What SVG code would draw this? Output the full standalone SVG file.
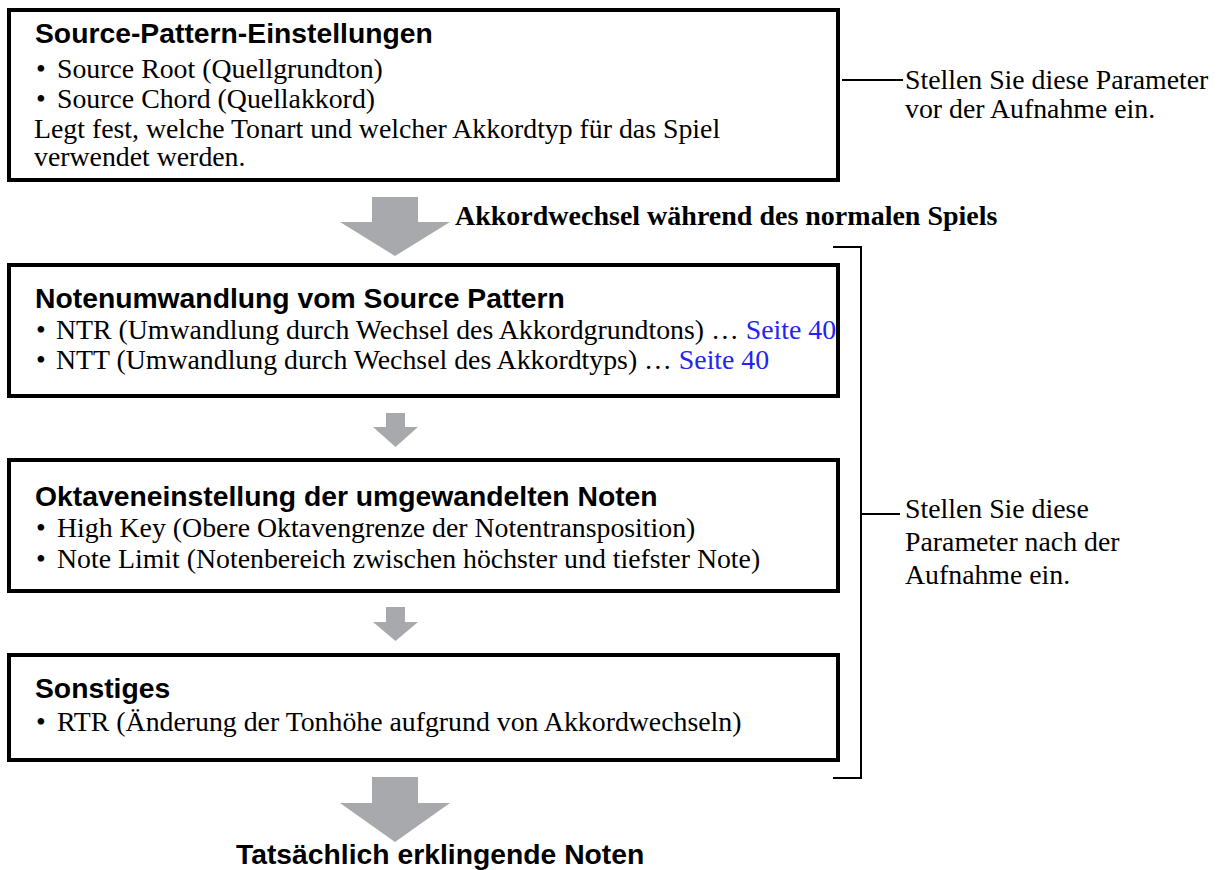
<svg xmlns="http://www.w3.org/2000/svg" width="1226" height="870" viewBox="0 0 1226 870">
  <style>
    .box { fill: #ffffff; stroke: #000000; stroke-width: 4; }
    .head { font-family: "Liberation Sans", Arial, sans-serif; font-weight: bold; font-size: 28.3px; fill: #000; }
    .body { font-family: "Liberation Serif", "Times New Roman", serif; font-size: 27.8px; fill: #000; }
    .bold { font-family: "Liberation Serif", "Times New Roman", serif; font-weight: bold; font-size: 28px; fill: #000; }
    .link { fill: #2323f2; }
    .arrow { fill: #a7a9ac; }
    .wire { fill: none; stroke: #000000; stroke-width: 2; }
  </style>
  <rect width="1226" height="870" fill="#ffffff"/>

  <!-- connectors: flow arrows and brackets -->
  <g id="connectors">
    <polygon class="arrow" points="372,197 418,197 418,222 450,222 395,256 340,222 372,222"/>
    <polygon class="arrow" points="386,413 405,413 405,427 418,427 395.5,447 373,427 386,427"/>
    <polygon class="arrow" points="386,607 405,607 405,622 418,622 395.5,641 373,622 386,622"/>
    <polygon class="arrow" points="372,777 418,777 418,803 450,803 395,842 340,803 372,803"/>
    <line class="wire" x1="842" y1="80" x2="903" y2="80"/>
    <polyline class="wire" points="833,247 861,247 861,778 833,778"/>
    <line class="wire" x1="861" y1="514" x2="900" y2="514"/>
  </g>

  <!-- before recording -->
  <g id="source-pattern">
    <rect class="box" x="9" y="10" width="829" height="170"/>
    <text class="head" x="35" y="43">Source-Pattern-Einstellungen</text>
    <text class="body" x="36" y="78">•<tspan x="57">Source Root (Quellgrundton)</tspan></text>
    <text class="body" x="36" y="108">•<tspan x="57">Source Chord (Quellakkord)</tspan></text>
    <text class="body" x="34" y="138">Legt fest, welche Tonart und welcher Akkordtyp für das Spiel</text>
    <text class="body" x="34" y="166">verwendet werden.</text>
  </g>

  <g id="label-before">
    <text class="body" x="905" y="89">Stellen Sie diese Parameter</text>
    <text class="body" x="905" y="118">vor der Aufnahme ein.</text>
  </g>

  <g id="label-chord-change">
    <text class="bold" x="455" y="225">Akkordwechsel während des normalen Spiels</text>
  </g>

  <!-- after recording -->
  <g id="note-conversion">
    <rect class="box" x="9" y="265" width="829" height="131"/>
    <text class="head" x="35" y="308">Notenumwandlung vom Source Pattern</text>
    <text class="body" x="36" y="339">•<tspan x="56">NTR (Umwandlung durch Wechsel des Akkordgrundtons) … </tspan><tspan class="link">Seite 40</tspan></text>
    <text class="body" x="36" y="369">•<tspan x="56">NTT (Umwandlung durch Wechsel des Akkordtyps) … </tspan><tspan class="link">Seite 40</tspan></text>
  </g>

  <g id="octave-settings">
    <rect class="box" x="9" y="460" width="829" height="131"/>
    <text class="head" x="35" y="506">Oktaveneinstellung der umgewandelten Noten</text>
    <text class="body" x="36" y="537">•<tspan x="57">High Key (Obere Oktavengrenze der Notentransposition)</tspan></text>
    <text class="body" x="36" y="568">•<tspan x="57">Note Limit (Notenbereich zwischen höchster und tiefster Note)</tspan></text>
  </g>

  <g id="other">
    <rect class="box" x="9" y="655" width="829" height="105"/>
    <text class="head" x="35" y="698">Sonstiges</text>
    <text class="body" x="36" y="731">•<tspan x="57">RTR (Änderung der Tonhöhe aufgrund von Akkordwechseln)</tspan></text>
  </g>

  <g id="label-after">
    <text class="body" x="905" y="518">Stellen Sie diese</text>
    <text class="body" x="905" y="551">Parameter nach der</text>
    <text class="body" x="905" y="584">Aufnahme ein.</text>
  </g>

  <g id="result">
    <text class="head" x="236" y="864">Tatsächlich erklingende Noten</text>
  </g>
</svg>
